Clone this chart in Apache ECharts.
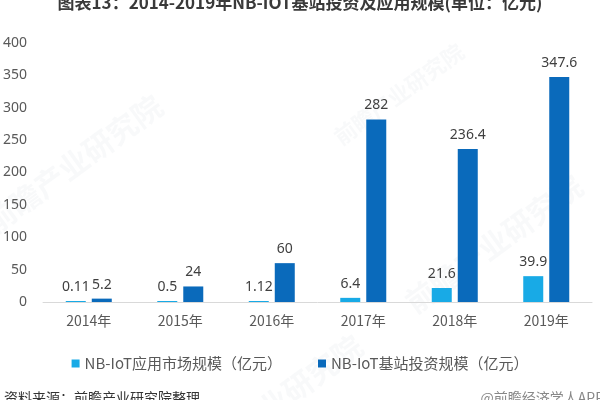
<!DOCTYPE html>
<html><head><meta charset="utf-8">
<script src="https://cdn.jsdelivr.net/npm/echarts@6/dist/echarts.min.js"></script>
<style>html,body{margin:0;padding:0;background:#fff}#c{width:600px;height:400px}</style>
</head><body><div id="c"></div>
<script>
const categories = ['2014年','2015年','2016年','2017年','2018年','2019年'];
const appMarket = [0.11, 0.5, 1.12, 6.4, 21.6, 39.9];
const stationInvest = [5.2, 24, 60, 282, 236.4, 347.6];
const seriesNames = ['NB-IoT应用市场规模（亿元）','NB-IoT基站投资规模（亿元）'];
const yTicks = {min: 0, max: 400, interval: 50};
const titleText = '图表13：2014-2019年NB-IOT基站投资及应用规模(单位：亿元)';
const sourceText = '资料来源：前瞻产业研究院整理';
const brandText = '@前瞻经济学人APP';

const FONT = '"Noto Sans CJK SC","Noto Sans",sans-serif';
const chart = echarts.init(document.getElementById('c'));
const wm = (x,y,rot,size)=>({type:'text',left:x,top:y,rotation:rot,z:-1,silent:true,
  style:{text:'前瞻产业研究院',fill:'rgba(150,170,190,0.07)',font:'bold '+size+'px '+FONT}});
chart.setOption({
  animation:false,
  textStyle:{fontFamily:FONT},
  title:{text:titleText,left:'center',top:-11,textStyle:{fontSize:17,fontWeight:'bold',color:'#3a3a3a',fontFamily:FONT}},
  grid:{left:43,right:8,top:43,bottom:98,containLabel:false},
  legend:{bottom:24,left:'center',itemWidth:8,itemHeight:8,itemGap:36,icon:'rect',
    textStyle:{fontSize:15,color:'#595959',fontFamily:FONT},data:seriesNames},
  xAxis:{type:'category',data:categories,
    axisLine:{lineStyle:{color:'#d9d9d9'}},axisTick:{show:false},
    axisLabel:{fontSize:14,color:'#595959',margin:12,fontFamily:FONT}},
  yAxis:{type:'value',min:yTicks.min,max:yTicks.max,interval:yTicks.interval,
    splitLine:{show:false},axisLine:{show:false},axisTick:{show:false},
    axisLabel:{fontSize:14,color:'#595959',margin:16,fontFamily:'"Noto Sans",sans-serif'}},
  series:[
    {name:seriesNames[0],type:'bar',data:appMarket,barWidth:20,barGap:'30%',barMinHeight:1,
     itemStyle:{color:'#18AAE6'},
     label:{show:true,position:'top',distance:7,fontSize:14,color:'#404040',fontFamily:'"Noto Sans",sans-serif'}},
    {name:seriesNames[1],type:'bar',data:stationInvest,barWidth:20,
     itemStyle:{color:'#0A6ABB'},
     label:{show:true,position:'top',distance:7,fontSize:14,color:'#404040',fontFamily:'"Noto Sans",sans-serif'}}
  ],
  graphic:[
    wm(-20,90,Math.PI/5,30), wm(180,330,Math.PI/5,30), wm(400,170,Math.PI/5,30), wm(330,40,Math.PI/5,22),
    {type:'text',left:4,top:391,style:{text:sourceText,fill:'#333',font:'14px '+FONT}},
    {type:'text',right:-4,top:391,style:{text:brandText,fill:'#888',font:'14px '+FONT}}
  ]
});
</script></body></html>
